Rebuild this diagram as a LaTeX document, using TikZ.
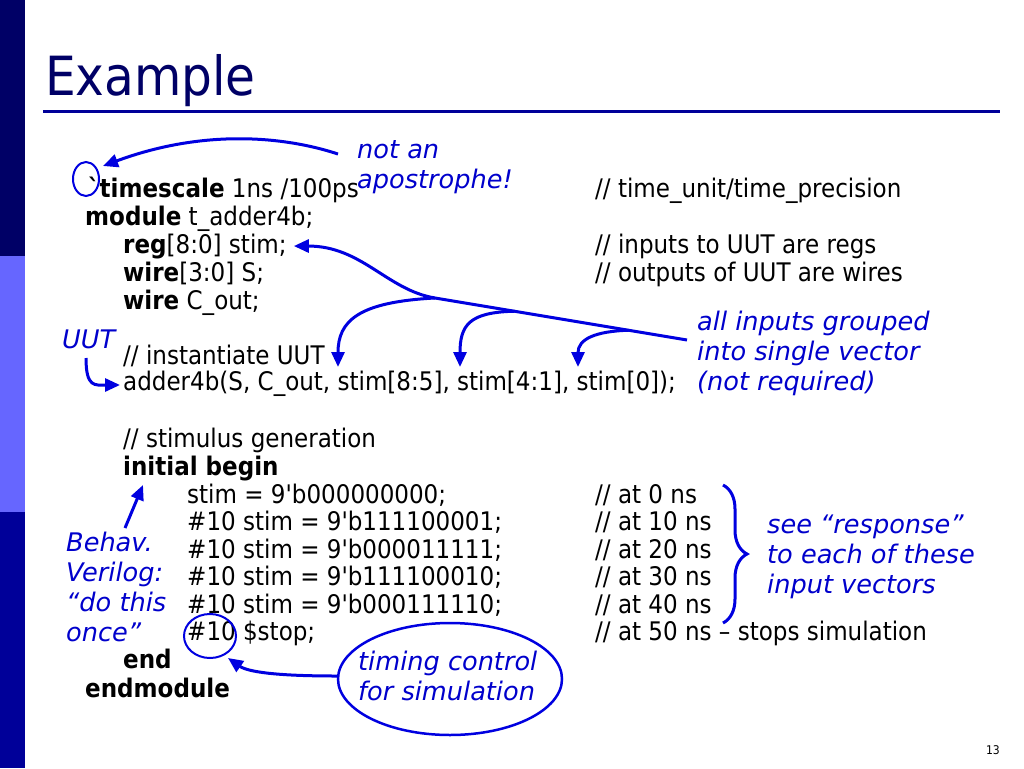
\documentclass[tikz,border=0pt]{standalone}
\usepackage{fontspec}
\newfontfamily\codefont{DejaVu Sans Condensed}
\newfontfamily\notefont{DejaVu Sans}
\usetikzlibrary{arrows.meta,calc,decorations.pathreplacing,shapes.geometric}
\definecolor{bartop}{RGB}{0,0,102}
\definecolor{barmid}{RGB}{102,102,255}
\definecolor{barlow}{RGB}{0,0,153}
\definecolor{titlenavy}{RGB}{0,0,102}
\definecolor{rulenavy}{RGB}{0,0,153}
\definecolor{noteblue}{RGB}{0,0,204}
\definecolor{arrowblue}{RGB}{0,0,224}

\begin{document}
\begin{tikzpicture}[x=1pt,y=-1pt,
    code/.style={anchor=base west,inner sep=0pt,font=\codefont\fontsize{25.6}{28}\selectfont},
    note/.style={anchor=base west,inner sep=0pt,align=left,text=noteblue,
      font=\notefont\itshape\fontsize{25.6}{30}\selectfont},
    ring/.style={ellipse,draw=arrowblue,line width=2pt,inner sep=0pt},
    pointer/.style={draw=arrowblue,line width=3pt,-{Triangle[length=15pt,width=13pt]}}]
  \useasboundingbox (0,0) rectangle (1024,768);
  \fill[white] (0,0) rectangle (1024,768);
  % side bar and title
  \fill[bartop] (0,0) rectangle (25,256);
  \fill[barmid] (0,256) rectangle (25,512);
  \fill[barlow] (0,512) rectangle (25,768);
  \node[anchor=base west,inner sep=0pt,text=titlenavy,
    font=\codefont\fontsize{54}{58}\selectfont] (title) at (45,95) {Example};
  \draw[rulenavy,line width=3pt] (43,111) -- (1000,111);

  % code
  \begin{scope}[every node/.style={code}]
    \node (tsc) at (88,197) {\textbf{\symbol{96}timescale} 1ns /100ps};
    \node (mod) at (85,225) {\textbf{module} t\_adder4b;};
    \node (regl) at (123,253) {\textbf{reg}[8:0] stim;};
    \node (wirel) at (123,281) {\textbf{wire}[3:0] S;};
    \node (wirec) at (123,309) {\textbf{wire} C\_out;};
    \node (inst) at (123,364) {// instantiate UUT};
    \node (addr) at (123,390) {adder4b(S, C\_out, stim[8:5], stim[4:1], stim[0]);};
    \node (stimg) at (123,447) {// stimulus generation};
    \node (initl) at (123,475) {\textbf{initial begin}};
    \node (st0) at (187,503) {stim = 9\symbol{39}b000000000;};
    \node (st1) at (187,530) {\#10 stim = 9\symbol{39}b111100001;};
    \node (st2) at (187,558) {\#10 stim = 9\symbol{39}b000011111;};
    \node (st3) at (187,585) {\#10 stim = 9\symbol{39}b111100010;};
    \node (st4) at (187,613) {\#10 stim = 9\symbol{39}b000111110;};
    \node (stop) at (187,640) {\#10 \$stop;};
    \node (endl) at (123,668) {\textbf{end}};
    \node (endm) at (85,697) {\textbf{endmodule}};
    % comments
    \node (ctu) at (595,197) {// time\_unit/time\_precision};
    \node (creg) at (595,253) {// inputs to UUT are regs};
    \node (cwire) at (595,281) {// outputs of UUT are wires};
    \node (c0) at (595,503) {// at 0 ns};
    \node (c1) at (595,530) {// at 10 ns};
    \node (c2) at (595,558) {// at 20 ns};
    \node (c3) at (595,585) {// at 30 ns};
    \node (c4) at (595,613) {// at 40 ns};
    \node (c5) at (595,640) {// at 50 ns – stops simulation};
  \end{scope}

  % notes (base = last line)
  \begin{scope}[every node/.style={note}]
    \node (notan) at (357,188) {not an\\apostrophe!};
    \node (allin) at (697,390) {all inputs grouped\\into single vector\\(not required)};
    \node (uut) at (62,348) {UUT};
    \node (behav) at (66,641) {Behav.\\Verilog:\\“do this\\once”};
    \node (resp) at (767,593) {see “response”\\to each of these\\input vectors};
    \node (timing) at (358,700) {timing control\\for simulation};
  \end{scope}
  \node[ring,line width=2.5pt,minimum width=224pt,minimum height=112pt] (tring) at (450,679) {};
  \node[ring,minimum width=26pt,minimum height=34pt] (tick) at (86,179) {};
  \node[ring,minimum width=52pt,minimum height=44pt] (hashc) at (210,636) {};

  % arrow ends
  \coordinate (nota) at (338,154);
  \coordinate (notb) at (103,166);
  \coordinate (alls) at (687,340);
  \coordinate (j0) at (435,298);
  \coordinate (j2) at ($(alls)!0.685!(j0)$);
  \coordinate (j3) at ($(alls)!0.232!(j0)$);
  \coordinate (t1) at (338,367);
  \coordinate (t2) at (460,367);
  \coordinate (t3) at (578,367);
  \coordinate (uuta) at (86,358);
  \coordinate (uutb) at (120,385);
  \coordinate (beha) at (125,528);
  \coordinate (behb) at (143,485);
  \coordinate (hashb) at (228,658);

  % connectors
  \draw[pointer] (nota) .. controls +(-58,-19) and +(97,-36) .. (notb);
  \draw[pointer] (alls) -- (j0) .. controls +(-48,-8) and +(68,0) .. ([xshift=7pt]regl.east);
  \draw[pointer] (j0) .. controls +(-77,4) and +(0,-46) .. (t1);
  \draw[pointer] (j2) .. controls +(-45,1) and +(0,-42) .. (t2);
  \draw[pointer] (j3) .. controls +(-33,1) and +(0,-28) .. (t3);
  \draw[pointer] (uuta) .. controls +(0,30) and +(-25,0) .. (uutb);
  \draw[pointer] (beha) -- (behb);
  \draw[pointer] ([yshift=3pt]tring.west) .. controls +(-60,0) and +(20,14) .. (hashb);
  \draw[arrowblue,line width=3pt,decorate,decoration={brace,amplitude=24pt}]
    (723,485) -- (723,623);

  \node[anchor=base east,inner sep=0pt,font=\codefont\fontsize{12}{14}\selectfont]
    (pgno) at (1000,754) {13};
\end{tikzpicture}
\end{document}
